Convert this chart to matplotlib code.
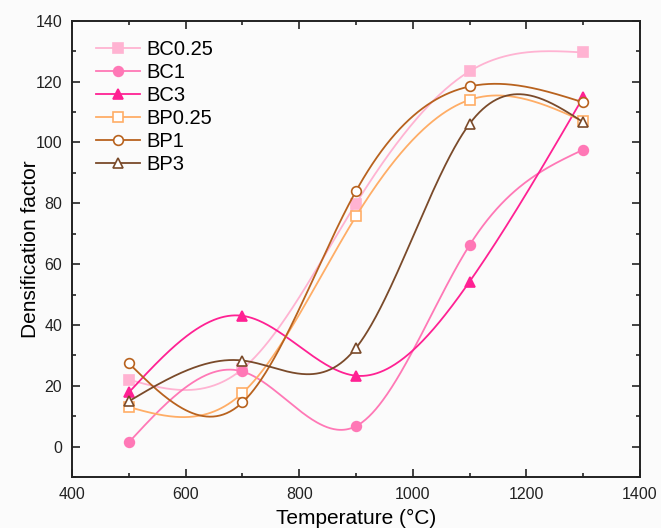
import numpy as np
import matplotlib
matplotlib.use('Agg')
import matplotlib.pyplot as plt
from matplotlib.ticker import MultipleLocator

# temperaturas de sinterização
temperaturas = [500, 700, 900, 1100, 1300]

# fator de densificação de cada amostra
bc025 = [22.0, 25.5, 79.9, 123.4, 129.6]
bc1 = [1.4, 24.7, 6.7, 66.2, 97.6]
bc3 = [17.8, 43.0, 23.3, 54.2, 114.8]
bp025 = [13.0, 17.6, 75.7, 114.0, 107.0]
bp1 = [27.4, 14.5, 84.0, 118.4, 113.2]
bp3 = [14.9, 28.3, 32.4, 106.1, 106.7]

nomes = ['BC0.25', 'BC1', 'BC3', 'BP0.25', 'BP1', 'BP3']
series = [bc025, bc1, bc3, bp025, bp1, bp3]
cores = ['#ffb3d2', '#ff78b6', '#ff2193', '#ffad66', '#b8621e', '#7a4a2a']
marcadores = ['s', 'o', '^', 's', 'o', '^']
preenchido = [True, True, True, False, False, False]


# spline cúbica natural (sem scipy)
def spline_natural(x, y, xs):
    x = np.asarray(x, float)
    y = np.asarray(y, float)
    n = len(x)
    h = np.diff(x)
    A = np.zeros((n, n))
    b = np.zeros(n)
    A[0, 0] = 1
    A[-1, -1] = 1
    for i in range(1, n - 1):
        A[i, i - 1] = h[i - 1]
        A[i, i] = 2 * (h[i - 1] + h[i])
        A[i, i + 1] = h[i]
        b[i] = 3 * ((y[i + 1] - y[i]) / h[i] - (y[i] - y[i - 1]) / h[i - 1])
    c = np.linalg.solve(A, b)
    ys = np.zeros_like(xs)
    for i in range(n - 1):
        m = (xs >= x[i]) & (xs <= x[i + 1])
        bi = (y[i + 1] - y[i]) / h[i] - h[i] * (2 * c[i] + c[i + 1]) / 3
        di = (c[i + 1] - c[i]) / (3 * h[i])
        t = xs[m] - x[i]
        ys[m] = y[i] + bi * t + c[i] * t ** 2 + di * t ** 3
    return ys


plt.rcParams['font.family'] = ['Liberation Sans', 'DejaVu Sans']

fig = plt.figure(figsize=(6.61, 5.28), dpi=100, facecolor='#fbfbfb')
ax = fig.add_axes([0.109, 0.0966, 0.859, 0.864])
ax.set_facecolor('#fbfbfb')

xs = np.linspace(500, 1300, 400)
for nome, serie, cor, mk, cheio in zip(nomes, series, cores, marcadores, preenchido):
    ax.plot(xs, spline_natural(temperaturas, serie, xs), color=cor, lw=1.3)
    ax.plot([], [], color=cor, lw=1.3, marker=mk, ms=7,
            mfc=cor if cheio else 'white', mec=cor, mew=1.2, label=nome)
    ax.plot(temperaturas, serie, ls='none', marker=mk, ms=7,
            mfc=cor if cheio else 'white', mec=cor, mew=1.2)

ax.set_xlim(400, 1400)
ax.set_ylim(-10, 140)
ax.xaxis.set_major_locator(MultipleLocator(200))
ax.xaxis.set_minor_locator(MultipleLocator(100))
ax.yaxis.set_major_locator(MultipleLocator(20))
ax.yaxis.set_minor_locator(MultipleLocator(10))
ax.tick_params(which='both', direction='in', top=True, right=True,
               labelsize=11.5, width=1.2, colors='#222222')
ax.tick_params(which='major', length=6, pad=7)
ax.tick_params(which='minor', length=3)
for s in ax.spines.values():
    s.set_linewidth(1.4)
    s.set_color('#222222')

ax.set_xlabel('Temperature (°C)', fontsize=15, labelpad=5)
ax.set_ylabel('Densification factor', fontsize=15, labelpad=-3)

ax.legend(loc='upper left', bbox_to_anchor=(0.028, 0.975), frameon=False,
          fontsize=14.5, handlelength=2.2, handletextpad=0.3,
          labelspacing=0.2, borderaxespad=0)

fig.savefig('out.png', dpi=100, facecolor=fig.get_facecolor())
